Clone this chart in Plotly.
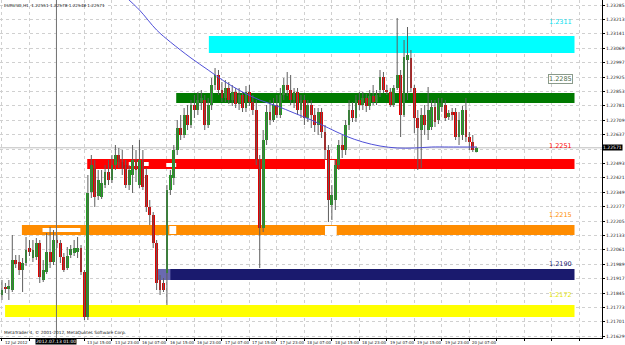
import plotly.graph_objects as go

# ---------------- data (EURUSD, H1) ----------------
opens = [
1.21835, 1.21875, 1.21865, 1.2186, 1.2201, 1.2200, 1.2196, 1.21995, 1.2207, 1.2202,
1.22025, 1.22095, 1.2191, 1.2195, 1.2205, 1.2200, 1.2211, 1.22095, 1.22025, 1.2197,
1.22035, 1.22045, 1.2205, 1.2207, 1.2195, 1.21725, 1.2235, 1.2247, 1.2233, 1.22325,
1.22385, 1.2245, 1.2241, 1.22485, 1.22535, 1.2250, 1.22485, 1.22385, 1.22435, 1.2251,
1.22385, 1.2251, 1.22435, 1.22275, 1.22235, 1.22095, 1.2191, 1.21895, 1.21945, 1.2236,
1.2242, 1.2256, 1.2267, 1.22635, 1.22735, 1.22685, 1.22785, 1.2276, 1.2280, 1.2281,
1.22685, 1.22785, 1.22885, 1.22935, 1.2286, 1.2282, 1.2287, 1.2281, 1.2285, 1.2279,
1.22835, 1.2277, 1.2285, 1.2280, 1.2276, 1.2251, 1.2217, 1.2261, 1.2275, 1.2271,
1.22785, 1.22735, 1.22835, 1.22885, 1.2286, 1.2281, 1.2285, 1.2276, 1.2281, 1.2272,
1.22785, 1.22735, 1.22685, 1.2275, 1.2265, 1.2256, 1.22285, 1.2231, 1.22485, 1.22585,
1.2256, 1.22685, 1.2276, 1.2272, 1.2281, 1.22785, 1.2282, 1.2278, 1.2283, 1.2280,
1.2286, 1.22925, 1.2286, 1.2285, 1.22785, 1.2287, 1.22935, 1.22735, 1.2301, 1.2302,
1.2287, 1.2272, 1.2266, 1.22735, 1.2266, 1.22675, 1.22775, 1.2271, 1.22775, 1.22785,
1.22725, 1.2275, 1.2275, 1.22625, 1.22635, 1.2276, 1.22625, 1.2260, 1.22551]
highs = [
1.2191, 1.21895, 1.2191, 1.22135, 1.22035, 1.22035, 1.2202, 1.22125, 1.2211, 1.2211,
1.2212, 1.2211, 1.2201, 1.22145, 1.22175, 1.2216, 1.22135, 1.2211, 1.22045, 1.22075,
1.22085, 1.2211, 1.22125, 1.22085, 1.2196, 1.22435, 1.22535, 1.2251, 1.2246, 1.2246,
1.22485, 1.2251, 1.22535, 1.22585, 1.2257, 1.2256, 1.2251, 1.22485, 1.22585, 1.2256,
1.2261, 1.2256, 1.2247, 1.2231, 1.2225, 1.2211, 1.21935, 1.2192, 1.22385, 1.2246,
1.22585, 1.2271, 1.22735, 1.2277, 1.22785, 1.2281, 1.22835, 1.2285, 1.2286, 1.22835,
1.2282, 1.2292, 1.2297, 1.2296, 1.2290, 1.2291, 1.2290, 1.22885, 1.2287, 1.2287,
1.2285, 1.2288, 1.22885, 1.22835, 1.2281, 1.22535, 1.2266, 1.22785, 1.2281, 1.2282,
1.22835, 1.2287, 1.2292, 1.2295, 1.22935, 1.2287, 1.2287, 1.22835, 1.22835, 1.2281,
1.2281, 1.2277, 1.2277, 1.2277, 1.22685, 1.22585, 1.22385, 1.2251, 1.2261, 1.22635,
1.2271, 1.2281, 1.2280, 1.22835, 1.2285, 1.2285, 1.2284, 1.2286, 1.22885, 1.2286,
1.2296, 1.2295, 1.22885, 1.2287, 1.22885, 1.2322, 1.2296, 1.2311, 1.23175, 1.2306,
1.22885, 1.2276, 1.2277, 1.22785, 1.22875, 1.2281, 1.2281, 1.2282, 1.2282, 1.2281,
1.2276, 1.2277, 1.2277, 1.2275, 1.2278, 1.2282, 1.2265, 1.22635, 1.22578]
lows = [
1.2181, 1.21845, 1.2181, 1.2185, 1.2197, 1.21935, 1.2185, 1.2198, 1.2203, 1.2200,
1.2201, 1.21895, 1.2190, 1.2194, 1.2197, 1.21985, 1.2207, 1.21995, 1.2195, 1.2196,
1.2202, 1.2203, 1.2202, 1.21935, 1.2171, 1.2171, 1.2232, 1.22275, 1.2231, 1.22315,
1.2237, 1.22385, 1.22395, 1.2246, 1.2247, 1.22435, 1.2237, 1.2236, 1.22345, 1.2240,
1.2237, 1.2236, 1.2225, 1.22185, 1.2207, 1.2186, 1.21835, 1.2185, 1.21785, 1.22335,
1.22385, 1.22535, 1.2261, 1.2262, 1.2266, 1.2267, 1.2272, 1.22735, 1.2276, 1.2266,
1.2267, 1.2276, 1.2286, 1.22835, 1.2280, 1.2280, 1.2279, 1.2278, 1.2277, 1.2276,
1.2275, 1.2275, 1.2278, 1.22735, 1.22485, 1.2197, 1.2215, 1.22585, 1.22685, 1.2270,
1.2272, 1.2272, 1.2281, 1.2283, 1.22785, 1.2277, 1.22735, 1.2272, 1.22685, 1.2270,
1.2267, 1.2265, 1.22635, 1.2262, 1.2251, 1.2220, 1.2221, 1.2226, 1.2246, 1.2252,
1.22535, 1.2266, 1.2270, 1.2270, 1.2276, 1.2276, 1.2275, 1.2276, 1.22785, 1.22785,
1.22825, 1.22845, 1.22835, 1.22775, 1.22775, 1.2286, 1.22625, 1.22725, 1.2281, 1.2285,
1.22645, 1.2246, 1.2247, 1.22635, 1.2261, 1.2266, 1.22675, 1.2269, 1.2275, 1.22705,
1.2271, 1.2271, 1.2261, 1.22585, 1.2261, 1.2260, 1.2256, 1.2255, 1.22548]
closes = [
1.2186, 1.21865, 1.2188, 1.2201, 1.2199, 1.2196, 1.21995, 1.2206, 1.2205, 1.2206,
1.22095, 1.21925, 1.2196, 1.2205, 1.2200, 1.2211, 1.22095, 1.22025, 1.2196, 1.2203,
1.22065, 1.2207, 1.2207, 1.2195, 1.21725, 1.22345, 1.22485, 1.22325, 1.2241, 1.22395,
1.2245, 1.2241, 1.22485, 1.22535, 1.2250, 1.2247, 1.22385, 1.2246, 1.2251, 1.2246,
1.2251, 1.22375, 1.22275, 1.22235, 1.22095, 1.21895, 1.2186, 1.2186, 1.2236, 1.22435,
1.2256, 1.2267, 1.22635, 1.22735, 1.22685, 1.22785, 1.2276, 1.2281, 1.2282, 1.22685,
1.22785, 1.22885, 1.22935, 1.2286, 1.2282, 1.2287, 1.2281, 1.2285, 1.2279, 1.22835,
1.2277, 1.2285, 1.2280, 1.2276, 1.2251, 1.2217, 1.2261, 1.2275, 1.2271, 1.22785,
1.22735, 1.22835, 1.22885, 1.2286, 1.2281, 1.2285, 1.2276, 1.2281, 1.2272, 1.22785,
1.22735, 1.22685, 1.2275, 1.2265, 1.2256, 1.2231, 1.22335, 1.22485, 1.22585, 1.2256,
1.22685, 1.2276, 1.2272, 1.2281, 1.22785, 1.2282, 1.2278, 1.2283, 1.2280, 1.22835,
1.22925, 1.2286, 1.2285, 1.22785, 1.2287, 1.22935, 1.22735, 1.23025, 1.23035, 1.2287,
1.2272, 1.2267, 1.22735, 1.22685, 1.2276, 1.22775, 1.2270, 1.22795, 1.22795, 1.2272,
1.22745, 1.22735, 1.22625, 1.2271, 1.2276, 1.22625, 1.2260, 1.2256, 1.22571]

# moving average (read at selected bars)
ma_idx = [36, 40, 45, 49, 55, 60, 65, 70, 75, 80, 85, 90, 95, 100, 105, 110, 115, 120, 125, 130, 138]
ma_val = [1.23325, 1.2326, 1.2316, 1.2310, 1.2302, 1.2296, 1.2290, 1.2285, 1.2281, 1.2278,
          1.22745, 1.2271, 1.2267, 1.2263, 1.2260, 1.2258, 1.2257, 1.2257, 1.22575, 1.22575, 1.22575]

# x-axis labels (every 8 bars)
x_labels = ["12 Jul 2012", "12 Jul 23:00", "13 Jul 07:00", "13 Jul 15:00", "13 Jul 23:00",
            "16 Jul 07:00", "16 Jul 15:00", "16 Jul 23:00", "17 Jul 07:00", "17 Jul 15:00",
            "17 Jul 23:00", "18 Jul 07:00", "18 Jul 15:00", "18 Jul 23:00", "19 Jul 07:00",
            "19 Jul 15:00", "19 Jul 23:00", "20 Jul 07:00"]
# y-axis ticks
y_ticks = [1.23285, 1.23213, 1.23141, 1.23069, 1.22997, 1.22925, 1.22853, 1.22781,
           1.22709, 1.22637, 1.22565, 1.22493, 1.22421, 1.22349, 1.22277, 1.22205,
           1.22133, 1.22061, 1.21989, 1.21917, 1.21845, 1.21773, 1.21701, 1.21629]

# support / resistance zones
band_labels = ["1.2311", "1.2285", "1.2251", "1.2215", "1.2190", "1.2172"]
band_start = [60.2, 50.7, 24.8, 5.8, 45.5, 0.9]
band_end = [166.6, 166.6, 166.6, 166.6, 166.6, 166.6]
band_top = [1.2313, 1.22845, 1.22515, 1.22185, 1.21965, 1.21785]
band_bottom = [1.23045, 1.22795, 1.22465, 1.22135, 1.2191, 1.21725]
band_label_price = [1.2320, 1.22915, 1.2258, 1.22235, 1.2199, 1.21835]
band_colors = ["#00FFFF", "#007A00", "#FF0000", "#FF8C00", "#1A1A6E", "#FFFF00"]
label_colors = ["#00E0F0", "#4A6A4A", "#FF0000", "#FF8C00", "#1A1A6E", "#E6E600"]

# small overlay marks on zones: x0, x1, top, bottom, colour
ov_x0 = [36.9, 47.8, 94.0, 11.8, 48.7, 94.0, 45.5]
ov_x1 = [42.7, 50.7, 96.8, 22.8, 50.7, 97.4, 49.0]
ov_top = [1.2250, 1.22495, 1.2251, 1.2217, 1.2218, 1.2218, 1.21965]
ov_bot = [1.2248, 1.22475, 1.22465, 1.2215, 1.2214, 1.22135, 1.2191]
ov_col = ["white", "white", "white", "white", "white", "white", "#6A6AB0"]

crosshair_bar = 15.85
title_text = "EURUSD,H1  1.22551 1.22578 1.22548 1.22571"

# ---------------- figure ----------------
n = len(opens)
idx = list(range(n))
fig = go.Figure()

wx, wy = [], []
for i in idx:
    wx += [i, i, None]
    wy += [lows[i], highs[i], None]
fig.add_trace(go.Scatter(x=wx, y=wy, mode="lines", line=dict(color="#5E5E5E", width=1),
                         hoverinfo="skip"))

base = [min(o, c) for o, c in zip(opens, closes)]
hgt = [max(abs(c - o), 0.00004) for o, c in zip(opens, closes)]
cols = ["#1E9E1E" if c >= o else "#E00000" for o, c in zip(opens, closes)]
fig.add_trace(go.Bar(x=idx, y=hgt, base=base, width=0.82, marker=dict(color=cols, line=dict(width=0))))

fig.add_trace(go.Scatter(x=ma_idx, y=ma_val, mode="lines",
                         line=dict(color="#5050D8", width=1, shape="spline"), hoverinfo="skip"))

shapes = []
for i in range(len(band_labels)):
    shapes.append(dict(type="rect", xref="x", yref="y", x0=band_start[i], x1=band_end[i],
                       y0=band_bottom[i], y1=band_top[i], fillcolor=band_colors[i],
                       line=dict(width=0), layer="between"))
for i in range(len(ov_x0)):
    shapes.append(dict(type="rect", xref="x", yref="y", x0=ov_x0[i], x1=ov_x1[i],
                       y0=ov_bot[i], y1=ov_top[i], fillcolor=ov_col[i],
                       line=dict(width=0), layer="between"))
# bid line
shapes.append(dict(type="line", xref="paper", yref="y", x0=0, x1=1, y0=closes[-1], y1=closes[-1],
                   line=dict(color="#BEBEBE", width=1), layer="between"))
# crosshair
shapes.append(dict(type="line", xref="x", yref="paper", x0=crosshair_bar, x1=crosshair_bar, y0=0, y1=1,
                   line=dict(color="#707070", width=1), layer="above"))

ann = []
for k, t in enumerate(x_labels):
    if k in (1, 2):
        continue  # hidden behind the crosshair date box in the reference
    ann.append(dict(x=k * 8, y=0, xref="x", yref="paper", text=t, showarrow=False,
                    xanchor="left", yanchor="top", yshift=0, xshift=1,
                    font=dict(size=4, color="#222222", family="DejaVu Sans")))
ann.append(dict(x=crosshair_bar, y=0, xref="x", yref="paper", text="2012.07.13 01:00", showarrow=False,
                xanchor="center", yanchor="top", bgcolor="black", borderpad=0,
                font=dict(size=4.5, color="white", family="DejaVu Sans")))
for i in range(len(band_labels)):
    a = dict(x=162.5, y=band_label_price[i], xref="x", yref="y", text=band_labels[i], showarrow=False,
             xanchor="center", yanchor="middle",
             font=dict(size=6.5, color=label_colors[i], family="DejaVu Sans"))
    if i == 1:
        a.update(bordercolor="#8A9A8A", borderwidth=1, borderpad=0, bgcolor="white")
    ann.append(a)
ann.append(dict(x=1, y=closes[-1], xref="paper", yref="y", text=f"{closes[-1]:.5f}", showarrow=False,
                xanchor="left", yanchor="middle", bgcolor="black", borderpad=0,
                font=dict(size=4.5, color="white", family="DejaVu Sans")))
ann.append(dict(x=0.003, y=1, xref="paper", yref="paper", text=title_text, showarrow=False,
                xanchor="left", yanchor="top", yshift=-1,
                font=dict(size=4.2, color="#111111", family="DejaVu Sans")))
ann.append(dict(x=0.003, y=0, xref="paper", yref="paper",
                text="MetaTrader 4, © 2001-2012, MetaQuotes Software Corp.", showarrow=False,
                xanchor="left", yanchor="bottom", yshift=1,
                font=dict(size=4.3, color="#111111", family="DejaVu Sans")))

# y tick labels, skipping the one covered by the current-price box
y_text = ["" if abs(v - closes[-1]) < 0.0003 else f"{v:.5f}" for v in y_ticks]

grid_x = list(range(0, 169, 8))
fig.update_layout(
    width=625, height=345, margin=dict(l=0, r=17, t=0, b=7),
    paper_bgcolor="white", plot_bgcolor="white", showlegend=False,
    shapes=shapes, annotations=ann, bargap=0,
    xaxis=dict(range=[-0.576, 174.6], tickvals=grid_x, showticklabels=False, ticks="outside",
               ticklen=2, tickcolor="black", showgrid=True, gridcolor="#D0D0D0", griddash="3px,3px",
               gridwidth=1, showline=True, linecolor="black", linewidth=1, zeroline=False, fixedrange=True),
    yaxis=dict(range=[1.2162, 1.2331], side="right", tickvals=y_ticks,
               ticktext=y_text, ticks="outside", ticklen=2, tickcolor="black",
               tickfont=dict(size=4.5, color="#222222", family="DejaVu Sans"),
               showgrid=True, gridcolor="#D0D0D0", griddash="3px,3px", gridwidth=1,
               showline=True, linecolor="black", linewidth=1, zeroline=False, fixedrange=True),
)

fig.write_html("out.html")
